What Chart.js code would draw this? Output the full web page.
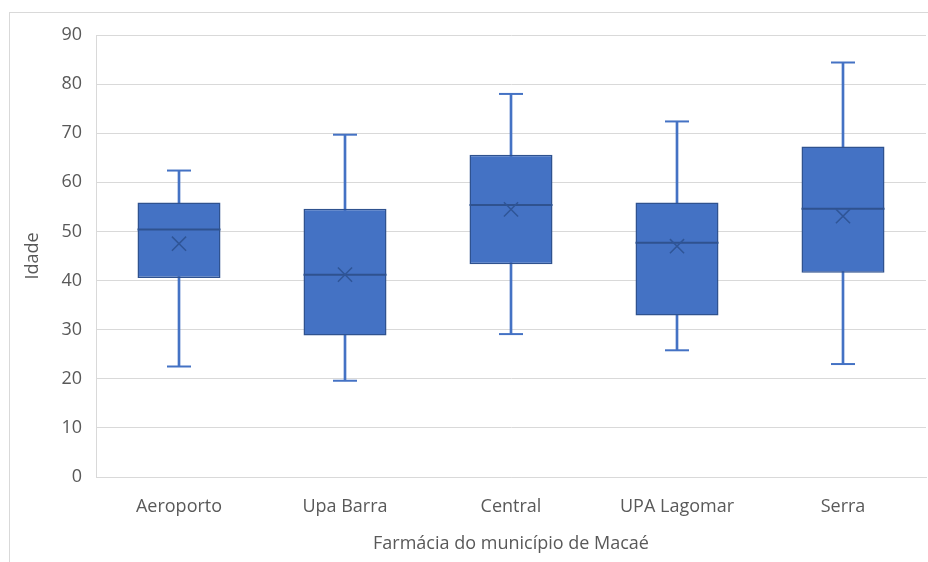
<!DOCTYPE html>
<html>
<head>
<meta charset="utf-8">
<script src="https://cdn.jsdelivr.net/npm/chart.js@4"></script>
<style>
  body { margin: 0; background: #fff; }
  #wrap { position: relative; width: 928px; height: 562px; }
  #frame { position: absolute; left: 9px; top: 12px; right: 0; bottom: 0;
           border-left: 1px solid #d9d9d9; border-top: 1px solid #d9d9d9; }
  #boxplot { position: absolute; left: 0; top: 0; }
</style>
</head>
<body>
<div id="wrap">
  <div id="frame"></div>
  <canvas id="boxplot" width="928" height="562"></canvas>
</div>
<script>
const farmacias = ["Aeroporto", "Upa Barra", "Central", "UPA Lagomar", "Serra"];
const minimo  = [22.5, 19.6, 29.1, 25.8, 23.0];
const q1      = [40.5, 28.8, 43.3, 32.9, 41.6];
const mediana = [50.4, 41.2, 55.4, 47.7, 54.6];
const q3      = [55.9, 54.6, 65.6, 55.9, 67.3];
const maximo  = [62.4, 69.7, 78.0, 72.4, 84.4];
const media   = [47.5, 41.2, 54.5, 47.0, 53.1];

const azul = "#4472C4";
const azulEscuro = "#2F528F";
const cinza = "#595959";
const fonte = { family: "'Open Sans', sans-serif", size: 18 };

// pares [de, até] para as barras flutuantes
const caixa = (de, ate) => de.map((v, i) => [v, ate[i]]);

// marcas horizontais (mediana, extremos) como pontos do tipo "line"
const traco = (label, data, raio, cor, largura) => ({
	type: "line",
	label: label,
	data: data,
	showLine: false,
	pointStyle: "line",
	pointRadius: raio,
	borderColor: cor,
	borderWidth: largura,
	order: 0,
});

const boxCanvas = document.getElementById("boxplot");

const myChart = new Chart(boxCanvas, {
	data: {
		labels: farmacias,
		datasets: [
			{
				type: "line",
				label: "média",
				data: media,
				showLine: false,
				pointStyle: "crossRot",
				pointRadius: 10,
				borderColor: "#2F5597",
				borderWidth: 1.5,
				order: 0,
			},
			traco("mediana", mediana, 41.5, azulEscuro, 2),
			traco("máximo", maximo, 12, azul, 2),
			traco("mínimo", minimo, 12, azul, 2),
			{
				type: "bar",
				label: "caixa",
				data: caixa(q1, q3),
				backgroundColor: azul,
				borderColor: azulEscuro,
				borderWidth: 1.5,
				borderSkipped: false,
				grouped: false,
				barPercentage: 0.5,
				categoryPercentage: 1,
				order: 1,
			},
			{
				type: "bar",
				label: "bigodes",
				data: caixa(minimo, maximo),
				backgroundColor: azul,
				barThickness: 2,
				grouped: false,
				order: 2,
			},
		],
	},
	options: {
		responsive: false,
		animation: false,
		events: [],
		layout: {
			autoPadding: false,
			padding: { top: 35, right: 2, left: 0, bottom: 0 },
		},
		plugins: {
			legend: { display: false },
			tooltip: { enabled: false },
		},
		scales: {
			x: {
				grid: { display: false },
				border: { display: true, color: "#d9d9d9" },
				ticks: { color: cinza, font: fonte, padding: 11 },
				title: {
					display: true,
					text: "Farmácia do município de Macaé",
					color: cinza,
					font: fonte,
					padding: { top: 0, bottom: 7 },
				},
				afterFit: (s) => {
					s.height = 85;
					s.paddingLeft = 0;
					s.paddingRight = 0;
				},
			},
			y: {
				min: 0,
				max: 90,
				ticks: { stepSize: 10, color: cinza, font: fonte, padding: 14 },
				grid: { color: "#d9d9d9", drawTicks: false },
				border: { display: true, color: "#d9d9d9" },
				title: {
					display: true,
					text: "Idade",
					color: cinza,
					font: fonte,
					padding: { top: 22, bottom: 0 },
				},
				afterFit: (s) => { s.width = 96; },
			},
		},
	},
});
</script>
</body>
</html>
